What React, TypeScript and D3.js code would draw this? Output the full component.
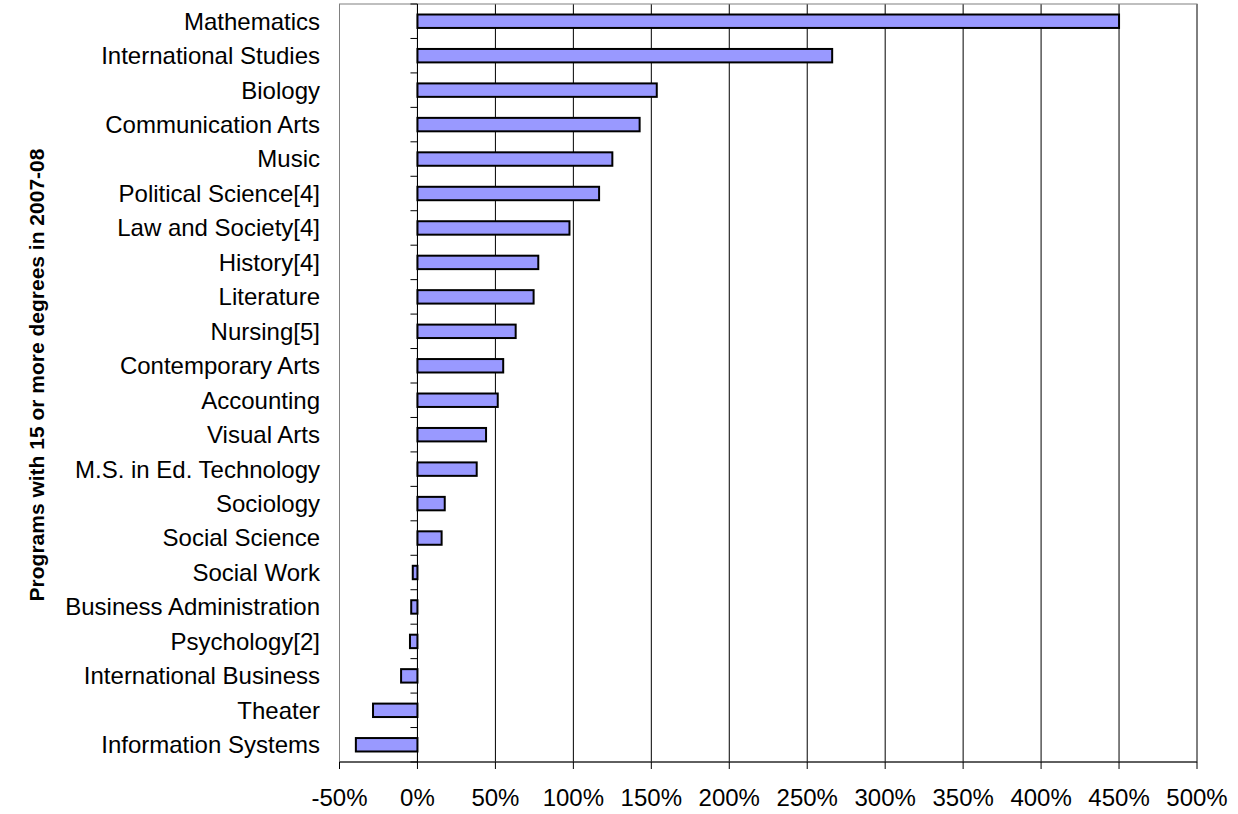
import * as d3 from "d3";

const categories = [
  "Mathematics",
  "International Studies",
  "Biology",
  "Communication Arts",
  "Music",
  "Political Science[4]",
  "Law and Society[4]",
  "History[4]",
  "Literature",
  "Nursing[5]",
  "Contemporary Arts",
  "Accounting",
  "Visual Arts",
  "M.S. in Ed. Technology",
  "Sociology",
  "Social Science",
  "Social Work",
  "Business Administration",
  "Psychology[2]",
  "International Business",
  "Theater",
  "Information Systems",
];

// percent change
const values = [
  450, 266, 153.5, 142.5, 125, 116.5, 97.5, 77.5, 74.5, 63, 55, 51.5, 44, 38,
  17.5, 15.5, -3, -4, -4.8, -10.5, -28.5, -39.5,
];

const xTicks = [-50, 0, 50, 100, 150, 200, 250, 300, 350, 400, 450, 500];

const W = 1238;
const H = 814;
const left = 339.5;
const right = 1197;
const top = 4;
const bottom = 762;

export default function App() {
  const x = d3.scaleLinear().domain([-50, 500]).range([left, right]);
  const y = d3.scaleBand<string>().domain(categories).range([top, bottom]).padding(0);
  const barH = y.bandwidth() * 0.39;
  const x0 = x(0);

  const bounds = categories.map((c) => y(c) ?? 0).concat([bottom]);

  return (
    <svg
      width={W}
      height={H}
      style={{ position: "absolute", left: 0, top: 0, background: "#fff" }}
      fontFamily="'Liberation Sans', Arial, sans-serif"
    >
      {/* gridlines */}
      {xTicks.map((t) => (
        <line key={t} x1={x(t)} x2={x(t)} y1={top} y2={bottom} stroke="#000" strokeWidth={1} />
      ))}

      {/* plot border */}
      <rect x={left} y={top} width={right - left} height={bottom - top} fill="none" stroke="#808080" strokeWidth={1} />

      {/* bars */}
      {categories.map((c, i) => {
        const v = values[i];
        const yc = (y(c) ?? 0) + y.bandwidth() / 2;
        return (
          <rect
            key={c}
            x={Math.min(x(v), x0)}
            y={yc - barH / 2}
            width={Math.abs(x(v) - x0)}
            height={barH}
            fill="#9999FF"
            stroke="#000"
            strokeWidth={2}
          />
        );
      })}

      {/* category axis at 0 */}
      <line x1={x0} x2={x0} y1={top} y2={bottom} stroke="#000" strokeWidth={1} />
      {bounds.map((b, i) => (
        <line key={i} x1={x0 - 7} x2={x0} y1={b} y2={b} stroke="#000" strokeWidth={1} />
      ))}

      {/* x axis */}
      <line x1={left} x2={right} y1={bottom} y2={bottom} stroke="#000" strokeWidth={1} />
      {xTicks.map((t) => (
        <g key={t}>
          <line x1={x(t)} x2={x(t)} y1={bottom} y2={bottom + 7} stroke="#000" strokeWidth={1} />
          <text x={x(t)} y={806} textAnchor="middle" fontSize={24} fill="#000">
            {t}%
          </text>
        </g>
      ))}

      {/* category labels */}
      {categories.map((c) => (
        <text
          key={c}
          x={320}
          y={(y(c) ?? 0) + y.bandwidth() / 2}
          dy="0.35em"
          textAnchor="end"
          fontSize={24}
          fill="#000"
        >
          {c}
        </text>
      ))}

      {/* axis title */}
      <text
        transform="translate(37,375) rotate(-90)"
        textAnchor="middle"
        dy="0.35em"
        fontSize={21}
        fontWeight="bold"
        fill="#000"
      >
        Programs with 15 or more degrees in 2007-08
      </text>
    </svg>
  );
}
